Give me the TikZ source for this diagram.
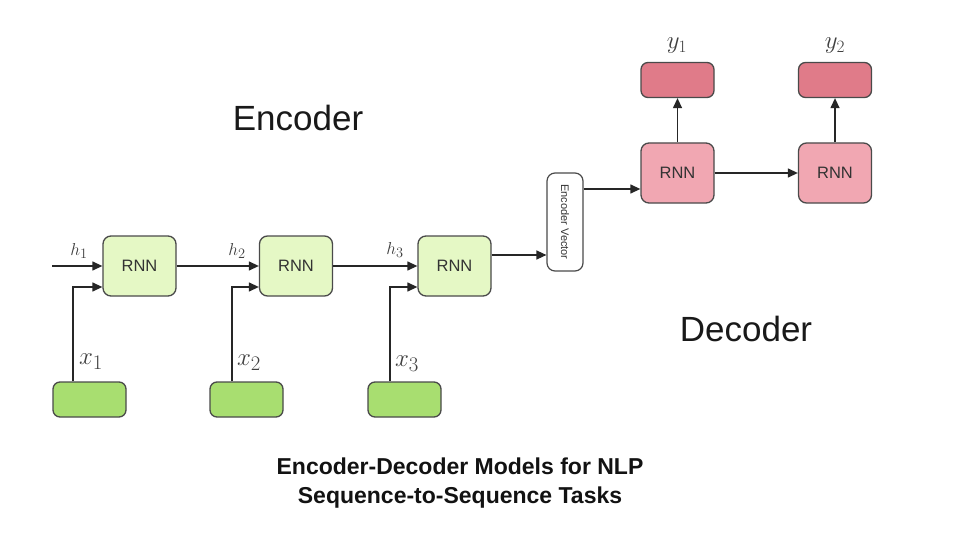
\documentclass[tikz,border=0pt]{standalone}
\usepackage{fontspec}
\setsansfont{Liberation Sans}
\newfontfamily\titlefont{Liberation Sans}
\usetikzlibrary{arrows.meta}
\definecolor{encfill}{HTML}{E5F8C5}
\definecolor{infill}{HTML}{A8DE70}
\definecolor{decfill}{HTML}{F1A7B2}
\definecolor{outfill}{HTML}{E07B89}
\definecolor{edge}{HTML}{4A4A4A}
\tikzset{
  rnnbox/.style={draw=edge, line width=1.3pt, rounded corners=8pt, minimum width=73pt, minimum height=60pt, inner sep=0pt, font=\sffamily\fontsize{16.5}{18}\selectfont, text=black!80},
  encrnn/.style={rnnbox, fill=encfill},
  decrnn/.style={rnnbox, fill=decfill},
  smallbox/.style={draw=edge, line width=1.3pt, rounded corners=7pt, minimum width=73pt, minimum height=35pt, inner sep=0pt},
  inbox/.style={smallbox, fill=infill},
  outbox/.style={smallbox, fill=outfill},
  evbox/.style={draw=edge, line width=1.2pt, rounded corners=8pt, fill=white, minimum width=36pt, minimum height=98pt, inner sep=0pt},
  arr/.style={draw=black!85, line width=1.3pt, -{Triangle[length=10pt,width=9pt]}},
  hlab/.style={font=\fontsize{19}{21}\selectfont, text=black!75},
  xlab/.style={font=\fontsize{28}{30}\selectfont, text=black!75},
  ylab/.style={font=\fontsize{24}{26}\selectfont, text=black!75},
  bigword/.style={font=\sffamily\fontsize{35}{40}\selectfont, text=black!90},
  titletext/.style={font=\titlefont\bfseries\fontsize{23}{29}\selectfont, text=black!93, align=center}
}
\begin{document}
\begin{tikzpicture}[x=1pt,y=-1pt]
\useasboundingbox[fill=white] (0,0) rectangle (960,540);

% encoder
\node[encrnn] (e1) at (139.5,266) {RNN};
\node[encrnn] (e2) at (296,266) {RNN};
\node[encrnn] (e3) at (454.5,266) {RNN};
\node[inbox] (i1) at (89.5,399.5) {};
\node[inbox] (i2) at (246.5,399.5) {};
\node[inbox] (i3) at (404.5,399.5) {};
\node[evbox] (ev) at (565,222) {\rotatebox{-90}{\sffamily\fontsize{11}{12}\selectfont\color{black!80}Encoder Vector}};

% decoder
\node[decrnn] (d1) at (677.5,173) {RNN};
\node[decrnn] (d2) at (835,173) {RNN};
\node[outbox] (o1) at (677.5,80) {};
\node[outbox] (o2) at (835,80) {};

% coordinates
\coordinate (h0) at (52,266);
\coordinate (a1) at (73,287);
\coordinate (a2) at (232,287);
\coordinate (a3) at (390,287);
\coordinate (ev1) at (0,255);
\coordinate (ev2) at (0,189);

% encoder connectors
\draw[arr] (h0) -- (e1.west);
\draw[arr] (e1.east) -- (e2.west);
\draw[arr] (e2.east) -- (e3.west);
\draw[arr] (i1.north -| a1) |- (e1.west |- a1);
\draw[arr] (i2.north -| a2) |- (e2.west |- a2);
\draw[arr] (i3.north -| a3) |- (e3.west |- a3);
\draw[arr] (e3.east |- ev1) -- (ev.west |- ev1);
\draw[arr] (ev.east |- ev2) -- (d1.west |- ev2);

% decoder connectors
\draw[arr] (d1.east) -- (d2.west);
\draw[arr] (d1.north) -- (o1.south);
\draw[arr] (d2.north) -- (o2.south);

% labels
\node[hlab] (lh1) at (79,251) {$h_1$};
\node[hlab] (lh2) at (237,251) {$h_2$};
\node[hlab] (lh3) at (395,250) {$h_3$};
\node[xlab] (lx1) at (91,362) {$x_1$};
\node[xlab] (lx2) at (249,363) {$x_2$};
\node[xlab] (lx3) at (407,364) {$x_3$};
\node[ylab] (ly1) at (677,46) {$y_1$};
\node[ylab] (ly2) at (835,46) {$y_2$};

\node[bigword] (enc) at (298,118) {Encoder};
\node[bigword] (dec) at (746,329) {Decoder};

\node[titletext] (title) at (460,483) {Encoder-Decoder Models for NLP\\Sequence-to-Sequence Tasks};
\end{tikzpicture}
\end{document}
